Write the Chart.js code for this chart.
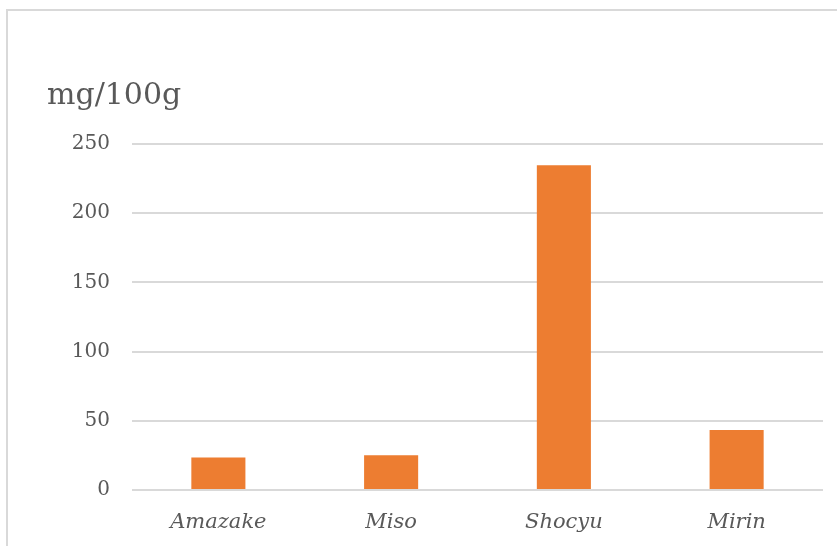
<!DOCTYPE html>
<html>
<head>
<meta charset="utf-8">
<style>
  html, body { margin: 0; padding: 0; background: #ffffff; }
  #wrap { position: relative; width: 837px; height: 546px; }
</style>
<script src="https://cdn.jsdelivr.net/npm/chart.js@4/dist/chart.umd.min.js"></script>
</head>
<body>
<div id="wrap"><canvas id="chart" width="837" height="546"></canvas></div>
<script>
// Content per 100 g of each fermented product
const categories = ['Amazake', 'Miso', 'Shocyu', 'Mirin'];
const values = [23.4, 25.1, 234.7, 43.4];
const unitLabel = 'mg/100g';
const yTicks = [0, 50, 100, 150, 200, 250];

const TEXT = '#595959';
const GRID = '#d9d9d9';
const BAR = '#ED7D31';
const SERIF = '"DejaVu Serif", "Liberation Serif", serif';

// Light frame along the top and left of the chart panel
const framePlugin = {
  id: 'frame',
  beforeDraw(chart) {
    const ctx = chart.ctx;
    ctx.save();
    ctx.strokeStyle = GRID;
    ctx.lineWidth = 2;
    ctx.beginPath();
    ctx.moveTo(7, chart.height);
    ctx.lineTo(7, 10);
    ctx.lineTo(chart.width, 10);
    ctx.stroke();
    ctx.restore();
  }
};

new Chart(document.getElementById('chart'), {
  type: 'bar',
  data: {
    labels: categories,
    datasets: [{
      data: values,
      backgroundColor: BAR,
      borderWidth: 0,
      categoryPercentage: 1,
      barPercentage: 0.313
    }]
  },
  options: {
    responsive: false,
    animation: false,
    layout: { padding: { left: 47, top: 78, right: 14, bottom: 12 } },
    plugins: {
      legend: { display: false },
      tooltip: { enabled: false },
      title: {
        display: true,
        text: unitLabel,
        align: 'start',
        color: TEXT,
        font: { family: SERIF, size: 30, weight: 'normal' },
        padding: { top: 0, bottom: 30 }
      }
    },
    scales: {
      x: {
        afterFit(scale) { scale.height = 44; },
        grid: { display: false },
        border: { display: false },
        ticks: {
          color: TEXT,
          padding: 12,
          font: { family: SERIF, size: 21, style: 'italic' }
        }
      },
      y: {
        min: 0,
        max: 250,
        afterFit(scale) { scale.width = 85; },
        afterBuildTicks(scale) { scale.ticks = yTicks.map(v => ({ value: v })); },
        grid: { color: GRID, lineWidth: 2, drawTicks: false },
        border: { display: false },
        ticks: {
          color: TEXT,
          padding: 22,
          font: { family: SERIF, size: 20 }
        }
      }
    }
  },
  plugins: [framePlugin]
});
</script>
</body>
</html>
